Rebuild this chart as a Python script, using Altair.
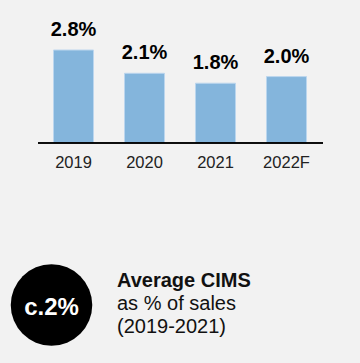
import altair as alt
import pandas as pd

years = ["2019", "2020", "2021", "2022F"]
values = [2.8, 2.1, 1.8, 2.0]
labels = ["2.8%", "2.1%", "1.8%", "2.0%"]

badge_text = ["c.2%"]
note_lines = ["Average CIMS", "as % of sales", "(2019-2021)"]
note_weights = ["bold", "normal", "normal"]

df = pd.DataFrame({"year": years, "value": values, "label": labels})

FONT = "Liberation Sans"
YDOM = [-6.386, 4.066]

x = alt.X("year:N", sort=years, axis=None,
          scale=alt.Scale(paddingInner=0.4366, paddingOuter=0.641))
y = alt.Y("value:Q", axis=None, scale=alt.Scale(domain=YDOM, nice=False, zero=False))

base = alt.Chart(df)

bars = base.mark_bar(color="#84b5dc", stroke="#bcd6ee", strokeWidth=1, width=40).encode(
    x=x, y=y, y2=alt.datum(0))

vals = base.mark_text(font=FONT, fontSize=20, fontWeight="bold", color="#000000",
                      baseline="alphabetic", dy=-14).encode(x=x, y=y, text="label:N")

xlabels = base.mark_text(font=FONT, fontSize=16.5, color="#222222",
                         baseline="alphabetic", dy=25).encode(
    x=x, y=alt.datum(0), text="year:N")

baseline_rule = base.mark_rule(color="#000000", strokeWidth=1).encode(
    y=alt.datum(0), x=alt.value(30), x2=alt.value(315))

badge_df = pd.DataFrame({"t": badge_text})
circle = alt.Chart(badge_df).mark_circle(color="#000000", opacity=1, size=6648).encode(
    x=alt.value(43.5), y=alt.value(297))
badge = alt.Chart(badge_df).mark_text(font=FONT, fontSize=24, fontWeight="bold", color="#ffffff",
                                      align="center", baseline="alphabetic").encode(
    x=alt.value(43.5), y=alt.value(307), text="t:N")

note_layers = []
for i, (line, w) in enumerate(zip(note_lines, note_weights)):
    note_layers.append(
        alt.Chart(pd.DataFrame({"t": [line]})).mark_text(
            font=FONT, fontSize=20, fontWeight=w, color="#111111",
            align="left", baseline="alphabetic").encode(
            x=alt.value(109), y=alt.value(279 + 23 * i), text="t:N")
    )

chart = alt.layer(bars, vals, xlabels, baseline_rule, circle, badge, *note_layers).properties(
    width=344, height=347, padding=0, autosize=alt.AutoSizeParams(type="none"),
    background="#f2f2f2"
).configure_view(stroke=None)

chart.save("out.html", embed_options={"renderer": "svg", "actions": False,
                                      "defaultStyle": "html, body { background: #f2f2f2; }"})
